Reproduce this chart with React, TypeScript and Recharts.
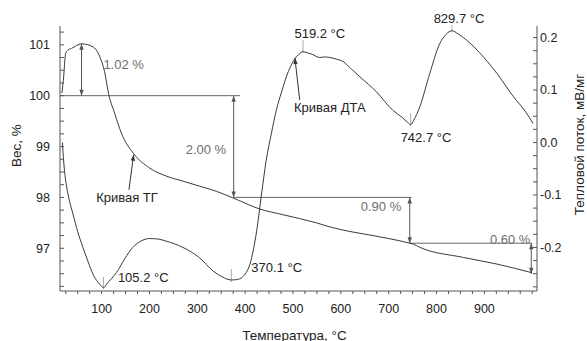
import React from 'react';
import { LineChart, Line, XAxis, YAxis, ReferenceLine, ReferenceDot } from 'recharts';

// ---- Data ----
const tgTemps = [17, 20, 25, 30, 37, 58, 82, 96, 106, 115, 127, 141, 167, 200, 235, 270, 305, 340, 377, 431, 479, 549, 577, 619, 661, 744, 752, 765, 856, 926, 999];
const tgValues = [100.05, 100.3, 100.84, 100.9, 100.93, 101.02, 100.96, 100.77, 100.48, 100.02, 99.66, 99.27, 98.86, 98.58, 98.42, 98.32, 98.22, 98.12, 97.98, 97.77, 97.66, 97.5, 97.42, 97.33, 97.26, 97.1, 97.08, 97.02, 96.82, 96.69, 96.52];

const dtaTemps = [18, 22, 27, 33, 40, 50, 61, 72, 82, 92, 98, 104, 110, 120, 131, 148, 165, 182, 200, 218, 235, 270, 305, 333, 352, 371, 384, 392, 402, 410, 417, 424, 434, 444, 455, 465, 476, 486, 495, 504, 512, 521, 530, 540, 556, 566, 577, 590, 605, 622, 640, 675, 709, 728, 740, 746, 752, 765, 786, 807, 820, 832, 845, 863, 898, 926, 961, 985, 1002];
const dtaValues = [0.0, -0.05, -0.085, -0.112, -0.136, -0.17, -0.2, -0.228, -0.251, -0.266, -0.272, -0.277, -0.27, -0.26, -0.248, -0.222, -0.2, -0.188, -0.183, -0.184, -0.188, -0.2, -0.22, -0.245, -0.256, -0.262, -0.261, -0.258, -0.248, -0.232, -0.205, -0.169, -0.1, -0.034, 0.018, 0.061, 0.096, 0.125, 0.145, 0.16, 0.168, 0.173, 0.171, 0.168, 0.162, 0.163, 0.162, 0.159, 0.154, 0.14, 0.125, 0.096, 0.061, 0.048, 0.038, 0.034, 0.042, 0.068, 0.132, 0.189, 0.206, 0.213, 0.207, 0.195, 0.163, 0.132, 0.087, 0.06, 0.036];

const xMajorTicks = [100, 200, 300, 400, 500, 600, 700, 800, 900];
const leftMajorTicks = [97, 98, 99, 100, 101];
const rightMajorTicks = [-0.2, -0.1, 0.0, 0.1, 0.2];

// peak temperature labels (right axis units)
const peakLabels = [
  { t: 187, v: -0.258, text: '105.2 °C' },
  { t: 466, v: -0.239, text: '370.1 °C' },
  { t: 556, v: 0.2086, text: '519.2 °C' },
  { t: 778, v: 0.0086, text: '742.7 °C' },
  { t: 847, v: 0.237, text: '829.7 °C' },
];
// small peak markers (right axis units)
const peakMarkers = [
  { t: 104, v1: -0.256, v2: -0.279 },
  { t: 371, v1: -0.241, v2: -0.266 },
  { t: 521, v1: 0.195, v2: 0.172 },
  { t: 746, v1: 0.056, v2: 0.031 },
  { t: 832, v1: 0.224, v2: 0.21 },
];
// mass loss labels (left axis units)
const lossLabels = [
  { t: 146, v: 100.61, text: '1.02 %' },
  { t: 318, v: 98.94, text: '2.00 %' },
  { t: 684, v: 97.82, text: '0.90 %' },
  { t: 954, v: 97.17, text: '0.60 %' },
];
// mass loss arrows (left axis units)
const lossArrows = [
  { t: 58, from: 101.02, to: 100 },
  { t: 376, from: 100, to: 98 },
  { t: 744, from: 98, to: 97.1 },
  { t: 998, from: 97.1, to: 96.5 },
];
// horizontal level lines (left axis units)
const levelLines = [
  { v: 100, from: 13, to: 389 },
  { v: 98, from: 376, to: 748 },
  { v: 97.1, from: 744, to: 1000 },
];

const tgData = tgTemps.map((t, i) => ({ t, v: tgValues[i] }));
const dtaData = dtaTemps.map((t, i) => ({ t, v: dtaValues[i] }));

const range = (a: number, b: number, step: number) => {
  const out: number[] = [];
  const n = Math.round((b - a) / step);
  for (let i = 0; i <= n; i++) out.push(Math.round((a + i * step) * 1000) / 1000);
  return out;
};
const xTicks = range(25, 1000, 25);
const leftTicks = range(96.25, 101.25, 0.25);
const rightTicks = range(-0.275, 0.2, 0.025);

const FONT = '"Liberation Sans", Arial, sans-serif';
const AXIS = '#555';
const CURVE = '#3a3a3a';
const GRAYTXT = '#6e6e6e';

const isMajor = (v: number, list: number[]) => list.some((m) => Math.abs(m - v) < 1e-6);

const XTick = (p: any) => {
  const { x, y, payload } = p;
  const v = payload.value;
  const major = isMajor(v, xMajorTicks);
  return (
    <g>
      <line x1={x} x2={x} y1={y} y2={y + 3} stroke={AXIS} strokeWidth={1} />
      {major && (
        <text x={x} y={y + 18} dy="0.35em" textAnchor="middle" fontSize={12.5} fontFamily={FONT} fill="#222">
          {v}
        </text>
      )}
    </g>
  );
};
const LeftTick = (p: any) => {
  const { x, y, payload } = p;
  const v = payload.value;
  const major = isMajor(v, leftMajorTicks);
  return (
    <g>
      <line x1={x} x2={x + 4} y1={y} y2={y} stroke={AXIS} strokeWidth={1} />
      {major && (
        <text x={x - 10} y={y} dy="0.35em" textAnchor="end" fontSize={12.5} fontFamily={FONT} fill="#222">
          {v}
        </text>
      )}
    </g>
  );
};
const RightTick = (p: any) => {
  const { x, y, payload } = p;
  const v = payload.value;
  const major = isMajor(v, rightMajorTicks);
  return (
    <g>
      <line x1={x - 4} x2={x} y1={y} y2={y} stroke={AXIS} strokeWidth={1} />
      {major && (
        <text x={x + 3} y={y} dy="0.35em" textAnchor="start" fontSize={12.5} fontFamily={FONT} fill="#222">
          {v.toFixed(1)}
        </text>
      )}
    </g>
  );
};

const LeftTitle = (p: any) => {
  const vb = p.viewBox || { x: 0, y: 26, width: 60, height: 265 };
  const cx = vb.x + 16;
  const cy = vb.y + vb.height / 2 - 13;
  return (
    <text x={cx} y={cy} transform={`rotate(-90 ${cx} ${cy})`} textAnchor="middle" dominantBaseline="central" fontSize={13.5} fontFamily={FONT} fill="#222">
      Вес, %
    </text>
  );
};
const RightTitle = (p: any) => {
  const vb = p.viewBox || { x: 537, y: 26, width: 50, height: 265 };
  const cx = vb.x + 42;
  const cy = vb.y + vb.height / 2 - 14;
  return (
    <text x={cx} y={cy} transform={`rotate(-90 ${cx} ${cy})`} textAnchor="middle" dominantBaseline="central" fontSize={13.5} fontFamily={FONT} fill="#222">
      Тепловой поток, мВ/мг
    </text>
  );
};
const XTitle = (p: any) => {
  const vb = p.viewBox || { x: 60, y: 291, width: 477, height: 50 };
  const cx = vb.x + vb.width / 2 - 4;
  const cy = vb.y + 44;
  return (
    <text x={cx} y={cy} textAnchor="middle" dominantBaseline="central" fontSize={13.5} fontFamily={FONT} fill="#222">
      Температура, °C
    </text>
  );
};

const headPts = (x: number, y: number, ang: number) => {
  const L = 6;
  const W = 2.2;
  const bx = x - L * Math.cos(ang);
  const by = y - L * Math.sin(ang);
  const px = -Math.sin(ang) * W;
  const py = Math.cos(ang) * W;
  return `${x},${y} ${bx + px},${by + py} ${bx - px},${by - py}`;
};

const makeArrow = (startHead: boolean, endHead: boolean, color: string) => (p: any) => {
  const x1 = Number(p.x1);
  const y1 = Number(p.y1);
  const x2 = Number(p.x2);
  const y2 = Number(p.y2);
  const ang = Math.atan2(y2 - y1, x2 - x1);
  return (
    <g>
      <line x1={x1} y1={y1} x2={x2} y2={y2} stroke={color} strokeWidth={1} />
      {startHead && <polygon points={headPts(x1, y1, ang + Math.PI)} fill={color} />}
      {endHead && <polygon points={headPts(x2, y2, ang)} fill={color} />}
    </g>
  );
};

const makeText = (text: string, color: string) => (p: any) => (
  <text x={p.cx} y={p.cy} textAnchor="middle" dominantBaseline="central" fontSize={13} fontFamily={FONT} fill={color}>
    {text}
  </text>
);

export default function App() {
  return (
    <div style={{ position: 'absolute', left: 0, top: 0, background: '#fff' }}>
      <LineChart width={587} height={341} margin={{ top: 26, right: 0, bottom: 0, left: 0 }}>
        <XAxis
          dataKey="t"
          type="number"
          domain={[13, 1010]}
          ticks={xTicks}
          interval={0}
          allowDataOverflow
          tick={XTick}
          tickLine={false}
          tickSize={0}
          tickMargin={0}
          height={50}
          stroke={AXIS}
          label={XTitle}
        />
        <YAxis
          yAxisId="left"
          orientation="left"
          type="number"
          domain={[96.16, 101.37]}
          ticks={leftTicks}
          interval={0}
          allowDataOverflow
          tick={LeftTick}
          tickLine={false}
          tickSize={0}
          tickMargin={0}
          width={60}
          stroke={AXIS}
          label={LeftTitle}
        />
        <YAxis
          yAxisId="right"
          orientation="right"
          type="number"
          domain={[-0.283, 0.222]}
          ticks={rightTicks}
          interval={0}
          allowDataOverflow
          tick={RightTick}
          tickLine={false}
          tickSize={0}
          tickMargin={0}
          width={50}
          stroke={AXIS}
          label={RightTitle}
        />

        {levelLines.map((l, i) => (
          <ReferenceLine
            key={'lvl' + i}
            yAxisId="left"
            ifOverflow="visible"
            segment={[{ x: l.from, y: l.v }, { x: l.to, y: l.v }]}
            stroke="#666"
            strokeWidth={1}
          />
        ))}
        {lossArrows.map((a, i) => (
          <ReferenceLine
            key={'arr' + i}
            yAxisId="left"
            ifOverflow="visible"
            segment={[{ x: a.t, y: a.from }, { x: a.t, y: a.to }]}
            shape={makeArrow(true, true, '#555')}
          />
        ))}
        {peakMarkers.map((m, i) => (
          <ReferenceLine
            key={'pm' + i}
            yAxisId="right"
            ifOverflow="visible"
            segment={[{ x: m.t, y: m.v1 }, { x: m.t, y: m.v2 }]}
            stroke="#aaa"
            strokeWidth={1}
          />
        ))}
        <ReferenceLine
          yAxisId="left"
          ifOverflow="visible"
          segment={[{ x: 157, y: 98.15 }, { x: 167, y: 98.84 }]}
          shape={makeArrow(false, true, '#333')}
        />
        <ReferenceLine
          yAxisId="right"
          ifOverflow="visible"
          segment={[{ x: 514, y: 0.081 }, { x: 504, y: 0.161 }]}
          shape={makeArrow(false, true, '#333')}
        />

        <Line yAxisId="left" data={tgData} dataKey="v" type="monotone" stroke={CURVE} strokeWidth={1} dot={false} isAnimationActive={false} />
        <Line yAxisId="right" data={dtaData} dataKey="v" type="monotone" stroke={CURVE} strokeWidth={1} dot={false} isAnimationActive={false} />

        {peakLabels.map((l, i) => (
          <ReferenceDot key={'pl' + i} yAxisId="right" x={l.t} y={l.v} ifOverflow="visible" shape={makeText(l.text, '#222')} />
        ))}
        {lossLabels.map((l, i) => (
          <ReferenceDot key={'ll' + i} yAxisId="left" x={l.t} y={l.v} ifOverflow="visible" shape={makeText(l.text, GRAYTXT)} />
        ))}
        <ReferenceDot yAxisId="left" x={153} y={98.0} ifOverflow="visible" shape={makeText('Кривая ТГ', '#222')} />
        <ReferenceDot yAxisId="right" x={577} y={0.0676} ifOverflow="visible" shape={makeText('Кривая ДТА', '#222')} />
      </LineChart>
    </div>
  );
}
